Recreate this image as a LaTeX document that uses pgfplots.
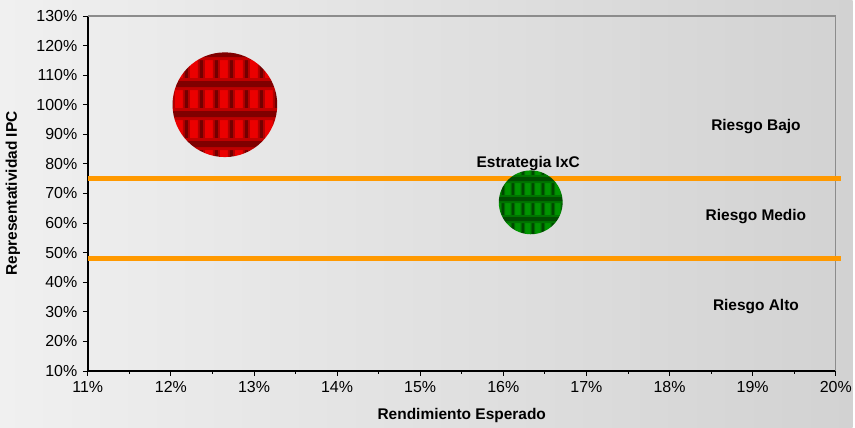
\documentclass[border=0pt]{standalone}
\usepackage{pgfplots}
\pgfplotsset{compat=1.18}
\usepackage{fontspec}
\setmainfont{Liberation Sans}
\usetikzlibrary{patterns}

\definecolor{bgl}{HTML}{F0F0F0}
\definecolor{bgr}{HTML}{D2D2D2}
\definecolor{riskline}{HTML}{FF9900}
\definecolor{framegray}{HTML}{8C8C8C}

% tiled textures of the two bubbles: vertical bands first, horizontal on top
\pgfdeclarepatterninherentlycolored{redtiles}{\pgfpointorigin}{\pgfpoint{15bp}{30bp}}{\pgfpoint{15bp}{30bp}}{%
  \pgfsetfillcolor{red!92!black}%
  \pgfpathrectangle{\pgfpointorigin}{\pgfpoint{15bp}{30bp}}\pgfusepath{fill}%
  \pgfsetlinewidth{7bp}\pgfsetstrokecolor{red!70!black}%
  \pgfpathmoveto{\pgfpoint{7.5bp}{0bp}}\pgfpathlineto{\pgfpoint{7.5bp}{30bp}}\pgfusepath{stroke}%
  \pgfsetlinewidth{3bp}\pgfsetstrokecolor{red!45!black}%
  \pgfpathmoveto{\pgfpoint{7.5bp}{0bp}}\pgfpathlineto{\pgfpoint{7.5bp}{30bp}}\pgfusepath{stroke}%
  \pgfsetlinewidth{12bp}\pgfsetstrokecolor{red!75!black}%
  \pgfpathmoveto{\pgfpoint{0bp}{15bp}}\pgfpathlineto{\pgfpoint{15bp}{15bp}}\pgfusepath{stroke}%
  \pgfsetlinewidth{6bp}\pgfsetstrokecolor{red!50!black}%
  \pgfpathmoveto{\pgfpoint{0bp}{15bp}}\pgfpathlineto{\pgfpoint{15bp}{15bp}}\pgfusepath{stroke}%
}
\pgfdeclarepatterninherentlycolored{greentiles}{\pgfpointorigin}{\pgfpoint{10bp}{20bp}}{\pgfpoint{10bp}{20bp}}{%
  \pgfsetfillcolor{green!58!black}%
  \pgfpathrectangle{\pgfpointorigin}{\pgfpoint{10bp}{20bp}}\pgfusepath{fill}%
  \pgfsetlinewidth{4.5bp}\pgfsetstrokecolor{green!42!black}%
  \pgfpathmoveto{\pgfpoint{5bp}{0bp}}\pgfpathlineto{\pgfpoint{5bp}{20bp}}\pgfusepath{stroke}%
  \pgfsetlinewidth{2bp}\pgfsetstrokecolor{green!28!black}%
  \pgfpathmoveto{\pgfpoint{5bp}{0bp}}\pgfpathlineto{\pgfpoint{5bp}{20bp}}\pgfusepath{stroke}%
  \pgfsetlinewidth{8bp}\pgfsetstrokecolor{green!45!black}%
  \pgfpathmoveto{\pgfpoint{0bp}{10bp}}\pgfpathlineto{\pgfpoint{10bp}{10bp}}\pgfusepath{stroke}%
  \pgfsetlinewidth{4bp}\pgfsetstrokecolor{green!30!black}%
  \pgfpathmoveto{\pgfpoint{0bp}{10bp}}\pgfpathlineto{\pgfpoint{10bp}{10bp}}\pgfusepath{stroke}%
}
\pgfdeclareplotmark{ipcball}{%
  \pgfpathcircle{\pgfpointorigin}{\pgfplotmarksize}%
  \pgfsetfillpattern{redtiles}{red}%
  \pgfusepathqfill}
\pgfdeclareplotmark{ixcball}{%
  \pgfpathcircle{\pgfpointorigin}{\pgfplotmarksize}%
  \pgfsetfillpattern{greentiles}{green}%
  \pgfusepathqfill}

\newcommand{\lblfont}{\bfseries\fontsize{15.5bp}{18bp}\selectfont}

\begin{document}
\begin{tikzpicture}
\shade[left color=bgl, right color=bgr] (-88bp,-57bp) rectangle (767bp,372bp);
\begin{axis}[
    scale only axis,
    width = 750bp,
    height = 356bp,
    xmin = 11, xmax = 20,
    ymin = 10, ymax = 130,
    xtick = {11,12,...,20},
    ytick = {10,20,...,130},
    minor x tick num = 1,
    axis x line* = bottom,
    axis y line* = left,
    axis line style = {black, line width=1.8bp},
    tick style = {black, line width=0.8bp},
    tick align = outside,
    major tick length = 5bp,
    minor tick length = 3bp,
    xticklabel = {\pgfmathprintnumber{\tick}\%},
    yticklabel = {\pgfmathprintnumber{\tick}\%},
    ticklabel style = {font=\fontsize{16bp}{18bp}\selectfont},
    xticklabel style = {yshift=-2bp},
    yticklabel style = {xshift=-2bp},
    /pgf/number format/assume math mode=true,
    xlabel = {Rendimiento Esperado},
    ylabel = {Representatividad IPC},
    label style = {font=\lblfont},
    xlabel style = {at={(axis description cs:0.5,-0.126)}, anchor=center},
    ylabel style = {at={(axis description cs:-0.1,0.5)}, anchor=center},
    clip = false,
]
% frame on top and right
\draw[framegray, line width=1.3bp] (rel axis cs:0,1) -- (rel axis cs:1,1) -- (rel axis cs:1,0);

% risk thresholds
\addplot[riskline, line width=4.5bp] coordinates { (11,75) (20.06,75) };
\addplot[riskline, line width=4.5bp] coordinates { (11,48) (20.06,48) };

% bubbles
\addplot[only marks, mark=ipcball, mark size=52.5bp] coordinates { (12.65,100) };
\addplot[only marks, mark=ixcball, mark size=32bp] coordinates { (16.33,67) };

\node[font=\lblfont] at (axis cs:12.65,100) {IPC};
\node[font=\lblfont] at (axis cs:16.3,80.2) {Estrategia IxC};
\node[font=\lblfont] at (axis cs:19.04,92.6) {Riesgo Bajo};
\node[font=\lblfont] at (axis cs:19.04,62.2) {Riesgo Medio};
\node[font=\lblfont] at (axis cs:19.04,31.9) {Riesgo Alto};
\end{axis}
\end{tikzpicture}
\end{document}
